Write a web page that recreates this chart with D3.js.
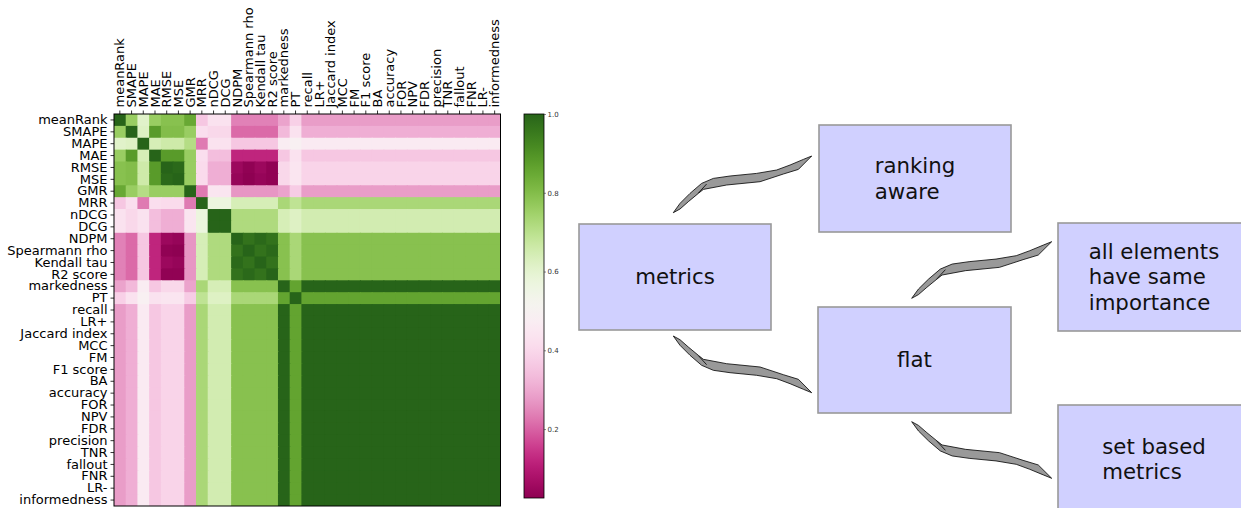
<!DOCTYPE html>
<html>
<head>
<meta charset="utf-8">
<script src="https://cdn.jsdelivr.net/npm/d3@7"></script>
<style>
  body { margin: 0; background: #fff; }
  svg { display: block; font-family: 'DejaVu Sans', sans-serif; }
</style>
</head>
<body>
<div id="chart"></div>
<script>
// metric names, same order for rows and columns
const metrics = ['meanRank', 'SMAPE', 'MAPE', 'MAE', 'RMSE', 'MSE', 'GMR', 'MRR', 'nDCG', 'DCG',
    'NDPM', 'Spearmann rho', 'Kendall tau', 'R2 score', 'markedness', 'PT', 'recall', 'LR+',
    'Jaccard index', 'MCC', 'FM', 'F1 score', 'BA', 'accuracy', 'FOR', 'NPV', 'FDR', 'precision',
    'TNR', 'fallout', 'FNR', 'LR-', 'informedness'];

// correlation matrix (row by row)
const corr = [
  [1.00,0.76,0.61,0.76,0.79,0.79,0.85,0.36,0.43,0.43,0.24,0.24,0.24,0.24,0.29,0.38,0.28,0.28,0.28,0.28,0.28,0.28,0.28,0.28,0.28,0.28,0.28,0.28,0.28,0.28,0.28,0.28,0.28],
  [0.76,1.00,0.62,0.88,0.80,0.80,0.76,0.42,0.40,0.40,0.21,0.21,0.21,0.21,0.33,0.43,0.31,0.31,0.31,0.31,0.31,0.31,0.31,0.31,0.31,0.31,0.31,0.31,0.31,0.31,0.31,0.31,0.31],
  [0.61,0.62,1.00,0.64,0.66,0.66,0.71,0.23,0.43,0.43,0.36,0.36,0.36,0.36,0.47,0.49,0.46,0.46,0.46,0.46,0.46,0.46,0.46,0.46,0.46,0.46,0.46,0.46,0.46,0.46,0.46,0.46,0.46],
  [0.76,0.88,0.64,1.00,0.88,0.88,0.76,0.42,0.34,0.34,0.12,0.12,0.12,0.12,0.36,0.43,0.36,0.36,0.36,0.36,0.36,0.36,0.36,0.36,0.36,0.36,0.36,0.36,0.36,0.36,0.36,0.36,0.36],
  [0.79,0.80,0.66,0.88,1.00,0.99,0.76,0.41,0.31,0.31,0.05,0.03,0.05,0.03,0.40,0.44,0.39,0.39,0.39,0.39,0.39,0.39,0.39,0.39,0.39,0.39,0.39,0.39,0.39,0.39,0.39,0.39,0.39],
  [0.79,0.80,0.66,0.88,0.99,1.00,0.76,0.41,0.31,0.31,0.04,0.025,0.04,0.03,0.40,0.44,0.39,0.39,0.39,0.39,0.39,0.39,0.39,0.39,0.39,0.39,0.39,0.39,0.39,0.39,0.39,0.39,0.39],
  [0.85,0.76,0.71,0.76,0.76,0.76,1.00,0.23,0.44,0.44,0.27,0.27,0.27,0.27,0.29,0.37,0.28,0.28,0.28,0.28,0.28,0.28,0.28,0.28,0.28,0.28,0.28,0.28,0.28,0.28,0.28,0.28,0.28],
  [0.36,0.42,0.23,0.42,0.41,0.41,0.23,1.00,0.57,0.57,0.64,0.64,0.64,0.64,0.73,0.69,0.73,0.73,0.73,0.73,0.73,0.73,0.73,0.73,0.73,0.73,0.73,0.73,0.73,0.73,0.73,0.73,0.73],
  [0.43,0.40,0.43,0.34,0.31,0.31,0.44,0.57,1.00,1.00,0.72,0.72,0.72,0.72,0.64,0.62,0.65,0.65,0.65,0.65,0.65,0.65,0.65,0.65,0.65,0.65,0.65,0.65,0.65,0.65,0.65,0.65,0.65],
  [0.43,0.40,0.43,0.34,0.31,0.31,0.44,0.57,1.00,1.00,0.72,0.72,0.72,0.72,0.64,0.62,0.65,0.65,0.65,0.65,0.65,0.65,0.65,0.65,0.65,0.65,0.65,0.65,0.65,0.65,0.65,0.65,0.65],
  [0.24,0.21,0.36,0.12,0.05,0.04,0.27,0.64,0.72,0.72,1.00,0.97,0.99,0.97,0.79,0.73,0.79,0.79,0.79,0.79,0.79,0.79,0.79,0.79,0.79,0.79,0.79,0.79,0.79,0.79,0.79,0.79,0.79],
  [0.24,0.21,0.36,0.12,0.03,0.025,0.27,0.64,0.72,0.72,0.97,1.00,0.97,0.99,0.79,0.73,0.79,0.79,0.79,0.79,0.79,0.79,0.79,0.79,0.79,0.79,0.79,0.79,0.79,0.79,0.79,0.79,0.79],
  [0.24,0.21,0.36,0.12,0.05,0.04,0.27,0.64,0.72,0.72,0.99,0.97,1.00,0.97,0.79,0.73,0.79,0.79,0.79,0.79,0.79,0.79,0.79,0.79,0.79,0.79,0.79,0.79,0.79,0.79,0.79,0.79,0.79],
  [0.24,0.21,0.36,0.12,0.03,0.03,0.27,0.64,0.72,0.72,0.97,0.99,0.97,1.00,0.79,0.73,0.79,0.79,0.79,0.79,0.79,0.79,0.79,0.79,0.79,0.79,0.79,0.79,0.79,0.79,0.79,0.79,0.79],
  [0.29,0.33,0.47,0.36,0.40,0.40,0.29,0.73,0.64,0.64,0.79,0.79,0.79,0.79,1.00,0.86,1.00,1.00,1.00,1.00,1.00,1.00,1.00,1.00,1.00,1.00,1.00,1.00,1.00,1.00,1.00,1.00,1.00],
  [0.38,0.43,0.49,0.43,0.44,0.44,0.37,0.69,0.62,0.62,0.73,0.73,0.73,0.73,0.86,1.00,0.86,0.86,0.86,0.86,0.86,0.86,0.86,0.86,0.86,0.86,0.86,0.86,0.86,0.86,0.86,0.86,0.86],
  [0.28,0.31,0.46,0.36,0.39,0.39,0.28,0.73,0.65,0.65,0.79,0.79,0.79,0.79,1.00,0.86,1.00,1.00,1.00,1.00,1.00,1.00,1.00,1.00,1.00,1.00,1.00,1.00,1.00,1.00,1.00,1.00,1.00],
  [0.28,0.31,0.46,0.36,0.39,0.39,0.28,0.73,0.65,0.65,0.79,0.79,0.79,0.79,1.00,0.86,1.00,1.00,1.00,1.00,1.00,1.00,1.00,1.00,1.00,1.00,1.00,1.00,1.00,1.00,1.00,1.00,1.00],
  [0.28,0.31,0.46,0.36,0.39,0.39,0.28,0.73,0.65,0.65,0.79,0.79,0.79,0.79,1.00,0.86,1.00,1.00,1.00,1.00,1.00,1.00,1.00,1.00,1.00,1.00,1.00,1.00,1.00,1.00,1.00,1.00,1.00],
  [0.28,0.31,0.46,0.36,0.39,0.39,0.28,0.73,0.65,0.65,0.79,0.79,0.79,0.79,1.00,0.86,1.00,1.00,1.00,1.00,1.00,1.00,1.00,1.00,1.00,1.00,1.00,1.00,1.00,1.00,1.00,1.00,1.00],
  [0.28,0.31,0.46,0.36,0.39,0.39,0.28,0.73,0.65,0.65,0.79,0.79,0.79,0.79,1.00,0.86,1.00,1.00,1.00,1.00,1.00,1.00,1.00,1.00,1.00,1.00,1.00,1.00,1.00,1.00,1.00,1.00,1.00],
  [0.28,0.31,0.46,0.36,0.39,0.39,0.28,0.73,0.65,0.65,0.79,0.79,0.79,0.79,1.00,0.86,1.00,1.00,1.00,1.00,1.00,1.00,1.00,1.00,1.00,1.00,1.00,1.00,1.00,1.00,1.00,1.00,1.00],
  [0.28,0.31,0.46,0.36,0.39,0.39,0.28,0.73,0.65,0.65,0.79,0.79,0.79,0.79,1.00,0.86,1.00,1.00,1.00,1.00,1.00,1.00,1.00,1.00,1.00,1.00,1.00,1.00,1.00,1.00,1.00,1.00,1.00],
  [0.28,0.31,0.46,0.36,0.39,0.39,0.28,0.73,0.65,0.65,0.79,0.79,0.79,0.79,1.00,0.86,1.00,1.00,1.00,1.00,1.00,1.00,1.00,1.00,1.00,1.00,1.00,1.00,1.00,1.00,1.00,1.00,1.00],
  [0.28,0.31,0.46,0.36,0.39,0.39,0.28,0.73,0.65,0.65,0.79,0.79,0.79,0.79,1.00,0.86,1.00,1.00,1.00,1.00,1.00,1.00,1.00,1.00,1.00,1.00,1.00,1.00,1.00,1.00,1.00,1.00,1.00],
  [0.28,0.31,0.46,0.36,0.39,0.39,0.28,0.73,0.65,0.65,0.79,0.79,0.79,0.79,1.00,0.86,1.00,1.00,1.00,1.00,1.00,1.00,1.00,1.00,1.00,1.00,1.00,1.00,1.00,1.00,1.00,1.00,1.00],
  [0.28,0.31,0.46,0.36,0.39,0.39,0.28,0.73,0.65,0.65,0.79,0.79,0.79,0.79,1.00,0.86,1.00,1.00,1.00,1.00,1.00,1.00,1.00,1.00,1.00,1.00,1.00,1.00,1.00,1.00,1.00,1.00,1.00],
  [0.28,0.31,0.46,0.36,0.39,0.39,0.28,0.73,0.65,0.65,0.79,0.79,0.79,0.79,1.00,0.86,1.00,1.00,1.00,1.00,1.00,1.00,1.00,1.00,1.00,1.00,1.00,1.00,1.00,1.00,1.00,1.00,1.00],
  [0.28,0.31,0.46,0.36,0.39,0.39,0.28,0.73,0.65,0.65,0.79,0.79,0.79,0.79,1.00,0.86,1.00,1.00,1.00,1.00,1.00,1.00,1.00,1.00,1.00,1.00,1.00,1.00,1.00,1.00,1.00,1.00,1.00],
  [0.28,0.31,0.46,0.36,0.39,0.39,0.28,0.73,0.65,0.65,0.79,0.79,0.79,0.79,1.00,0.86,1.00,1.00,1.00,1.00,1.00,1.00,1.00,1.00,1.00,1.00,1.00,1.00,1.00,1.00,1.00,1.00,1.00],
  [0.28,0.31,0.46,0.36,0.39,0.39,0.28,0.73,0.65,0.65,0.79,0.79,0.79,0.79,1.00,0.86,1.00,1.00,1.00,1.00,1.00,1.00,1.00,1.00,1.00,1.00,1.00,1.00,1.00,1.00,1.00,1.00,1.00],
  [0.28,0.31,0.46,0.36,0.39,0.39,0.28,0.73,0.65,0.65,0.79,0.79,0.79,0.79,1.00,0.86,1.00,1.00,1.00,1.00,1.00,1.00,1.00,1.00,1.00,1.00,1.00,1.00,1.00,1.00,1.00,1.00,1.00],
  [0.28,0.31,0.46,0.36,0.39,0.39,0.28,0.73,0.65,0.65,0.79,0.79,0.79,0.79,1.00,0.86,1.00,1.00,1.00,1.00,1.00,1.00,1.00,1.00,1.00,1.00,1.00,1.00,1.00,1.00,1.00,1.00,1.00]
];

const colorbarTicks = [0.2, 0.4, 0.6, 0.8, 1.0];

// diagram on the right
const boxLabels = [['metrics'], ['ranking', 'aware'], ['all elements', 'have same', 'importance'],
    ['flat'], ['set based', 'metrics']];
const links = [[0, 1], [0, 3], [3, 2], [3, 4]];

const W = 1241, H = 508;
const svg = d3.select('#chart').append('svg')
    .attr('width', W)
    .attr('height', H);

// ---------- heatmap ----------
let hm = { left: 114, top: 114, right: 500.5, bottom: 506 };

let x = d3.scaleBand().domain(metrics).range([hm.left, hm.right]).padding(0);
let y = d3.scaleBand().domain(metrics).range([hm.top, hm.bottom]).padding(0);

let flat = [];
corr.forEach(function(row, i) {
    row.forEach(function(v, j) {
        flat.push({ r: metrics[i], c: metrics[j], v: v });
    });
});

let vExtent = d3.extent(flat, function(d) { return d.v; });
let color = d3.scaleSequential(d3.interpolatePiYG).domain(vExtent);

svg.append('g')
    .selectAll('rect')
    .data(flat)
    .enter()
    .append('rect')
    .attr('x', function(d) { return x(d.c); })
    .attr('y', function(d) { return y(d.r); })
    .attr('width', function(d) { return d.c === metrics[metrics.length - 1] ? x.bandwidth() : x.bandwidth() + 1; })
    .attr('height', function(d) { return d.r === metrics[metrics.length - 1] ? y.bandwidth() : y.bandwidth() + 1; })
    .style('fill', function(d) { return color(d.v); });

svg.append('rect')
    .attr('x', hm.left)
    .attr('y', hm.top)
    .attr('width', hm.right - hm.left)
    .attr('height', hm.bottom - hm.top)
    .style('fill', 'none')
    .style('stroke', '#000')
    .style('stroke-width', 1);

let yAxis = d3.axisLeft(y).tickSize(3.5).tickPadding(3);
let gy = svg.append('g')
    .attr('transform', 'translate(' + hm.left + ',0)')
    .call(yAxis);

let xAxis = d3.axisTop(x).tickSize(3.5).tickPadding(3);
let gx = svg.append('g')
    .attr('transform', 'translate(0,' + hm.top + ')')
    .call(xAxis);

gx.selectAll('text')
    .attr('transform', 'rotate(-90)')
    .attr('x', 6.5)
    .attr('y', 0)
    .attr('dy', '0.35em')
    .style('text-anchor', 'start');

[gx, gy].forEach(function(g) {
    g.select('.domain').remove();
    g.selectAll('text')
        .style('font-family', "'DejaVu Sans', sans-serif")
        .style('font-size', '13px')
        .style('fill', '#000');
    g.selectAll('line').style('stroke', '#000').style('stroke-width', 0.8);
});

// ---------- colorbar ----------
let cb = { left: 524, width: 20, top: 114, bottom: 498 };
let cbScale = d3.scaleLinear().domain(vExtent).range([cb.bottom, cb.top]);

let grad = svg.append('defs').append('linearGradient')
    .attr('id', 'cbgrad')
    .attr('x1', 0).attr('y1', 1)
    .attr('x2', 0).attr('y2', 0);

d3.range(0, 1.0001, 0.02).forEach(function(t) {
    grad.append('stop')
        .attr('offset', t)
        .attr('stop-color', d3.interpolatePiYG(t));
});

svg.append('rect')
    .attr('x', cb.left)
    .attr('y', cb.top)
    .attr('width', cb.width)
    .attr('height', cb.bottom - cb.top)
    .style('fill', 'url(#cbgrad)')
    .style('stroke', '#000')
    .style('stroke-width', 0.8);

let cbAxis = d3.axisRight(cbScale)
    .tickValues(colorbarTicks)
    .tickFormat(d3.format('.1f'))
    .tickSize(2)
    .tickPadding(1.5);

let gcb = svg.append('g')
    .attr('transform', 'translate(' + (cb.left + cb.width) + ',0)')
    .call(cbAxis);
gcb.select('.domain').remove();
gcb.selectAll('text')
    .style('font-family', "'DejaVu Sans', sans-serif")
    .style('font-size', '7px')
    .style('fill', '#333');
gcb.selectAll('line').style('stroke', '#333').style('stroke-width', 0.6);

// ---------- diagram ----------
// box geometry in page pixels, same order as boxLabels
const boxGeom = [
    { x: 579, y: 224, w: 192, h: 106 },
    { x: 819, y: 125, w: 192, h: 107 },
    { x: 1058, y: 223, w: 192, h: 108 },
    { x: 818, y: 307, w: 193, h: 106 },
    { x: 1058, y: 405, w: 192, h: 108 }
];
// arrow tail / head points for each link
const arrowGeom = [
    { x0: 673.3, y0: 212.7, x1: 811.7, y1: 156 },
    { x0: 673.3, y0: 336, x1: 811.7, y1: 392.7 },
    { x0: 911.7, y0: 298.3, x1: 1051.7, y1: 241.7 },
    { x0: 911.7, y0: 421.7, x1: 1051.7, y1: 478.3 }
];
// wobbly arrow outline, traced for a span of (138.3, -56.7)
const arrowShape = [[0, 0], [6.7, -9.3], [16.7, -19.3], [28.3, -29.3], [40, -34.3], [56.7, -36.7],
    [83.3, -39.3], [103.3, -42.7], [116.7, -47.7], [130, -53.3], [138.3, -56.7],
    [125, -43.3], [110, -38.7], [86.7, -31], [53.3, -27.7], [30, -23.3], [25, -19.3],
    [15, -11], [6.7, -3.7]];
const arrowNotch = [[25, -19.6], [33.3, -28.7]];

let boxes = svg.append('g').selectAll('g')
    .data(boxLabels)
    .enter()
    .append('g');

boxes.append('rect')
    .attr('x', function(d, i) { return boxGeom[i].x; })
    .attr('y', function(d, i) { return boxGeom[i].y; })
    .attr('width', function(d, i) { return boxGeom[i].w; })
    .attr('height', function(d, i) { return boxGeom[i].h; })
    .style('fill', '#d0d0ff')
    .style('stroke', '#999')
    .style('stroke-width', 1.6);

let lineH = 25.6;
boxes.each(function(lines, i) {
    let g = d3.select(this);
    let b = boxGeom[i];
    let t = g.append('text')
        .style('font-family', "'DejaVu Sans', sans-serif")
        .style('font-size', '21.3px')
        .style('fill', '#111');
    lines.forEach(function(s, k) {
        t.append('tspan')
            .attr('x', 0)
            .attr('y', (k - (lines.length - 1) / 2) * lineH)
            .attr('dy', '0.35em')
            .text(s);
    });
    // block centred in the box, lines left aligned
    let bw = t.node().getBBox().width;
    t.attr('transform', 'translate(' + (b.x + b.w / 2 - bw / 2) + ',' + (b.y + b.h / 2) + ')');
});

let arrowLine = d3.line();
let arrows = svg.append('g').selectAll('g')
    .data(links)
    .enter()
    .append('g');

function placeShape(pts, a) {
    let sx = (a.x1 - a.x0) / 138.3;
    let sy = (a.y1 - a.y0) / -56.7;
    return pts.map(function(p) { return [a.x0 + p[0] * sx, a.y0 + p[1] * sy]; });
}

arrows.append('path')
    .attr('d', function(d, i) { return arrowLine(placeShape(arrowShape, arrowGeom[i])) + 'Z'; })
    .style('fill', '#999')
    .style('stroke', '#000')
    .style('stroke-width', 0.8)
    .style('stroke-linejoin', 'miter');

arrows.append('path')
    .attr('d', function(d, i) { return arrowLine(placeShape(arrowNotch, arrowGeom[i])); })
    .style('fill', 'none')
    .style('stroke', '#000')
    .style('stroke-width', 0.8);
</script>
</body>
</html>
